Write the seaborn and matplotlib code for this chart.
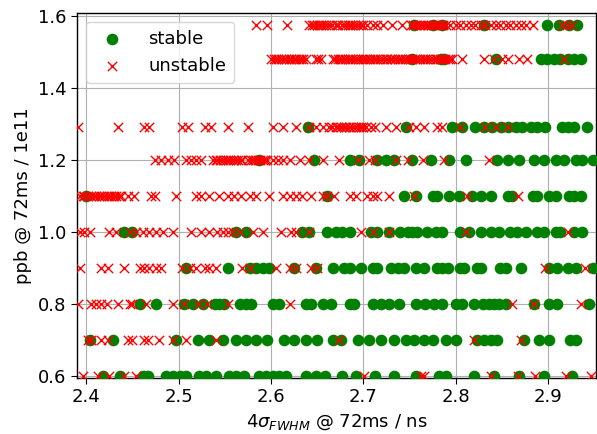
import numpy as np
import pandas as pd
import seaborn as sns
import matplotlib
matplotlib.use("Agg")
import matplotlib.pyplot as plt

# bunch intensity rows (ppb / 1e11) and bunch length values read per row
ppb_rows = [0.6, 0.7, 0.8, 0.9, 1.0, 1.1, 1.2, 1.29, 1.48, 1.575]

stable_060 = [2.418, 2.436, 2.461, 2.467, 2.486, 2.494, 2.501, 2.508, 2.522, 2.530, 2.540, 2.555,
              2.562, 2.571, 2.587, 2.595, 2.602, 2.609, 2.616, 2.638, 2.649, 2.658, 2.677, 2.692,
              2.713, 2.733, 2.757, 2.782, 2.789, 2.820, 2.841, 2.868, 2.895, 2.926]
unstable_060 = [2.396, 2.413, 2.425, 2.441, 2.454, 2.701, 2.762, 2.766, 2.838, 2.867, 2.886, 2.919, 2.946]

stable_070 = [2.404, 2.429, 2.497, 2.521, 2.533, 2.548, 2.562, 2.573, 2.584, 2.596, 2.614, 2.625,
              2.638, 2.650, 2.667, 2.676, 2.694, 2.706, 2.719, 2.733, 2.746, 2.755, 2.766, 2.775,
              2.789, 2.800, 2.823, 2.830, 2.838, 2.845, 2.874, 2.890, 2.901, 2.924, 2.930]
unstable_070 = [2.402, 2.405, 2.416, 2.423, 2.445, 2.449, 2.463, 2.467, 2.479, 2.494, 2.508, 2.540,
                2.674, 2.820, 2.870]

stable_080 = [2.458, 2.476, 2.506, 2.515, 2.526, 2.539, 2.544, 2.549, 2.566, 2.573, 2.578, 2.602,
              2.609, 2.638, 2.643, 2.656, 2.665, 2.685, 2.690, 2.710, 2.719, 2.728, 2.739, 2.757,
              2.767, 2.776, 2.785, 2.800, 2.807, 2.820, 2.829, 2.836, 2.841, 2.847, 2.854, 2.885,
              2.901, 2.910, 2.944]
unstable_080 = [2.391, 2.405, 2.411, 2.416, 2.422, 2.434, 2.447, 2.450, 2.465, 2.494, 2.506, 2.521,
                2.531, 2.553, 2.620, 2.861, 2.885, 2.935]

stable_090 = [2.508, 2.553, 2.577, 2.584, 2.591, 2.598, 2.625, 2.649, 2.667, 2.679, 2.685, 2.697,
              2.710, 2.715, 2.730, 2.737, 2.744, 2.757, 2.766, 2.780, 2.785, 2.791, 2.805, 2.809,
              2.823, 2.827, 2.848, 2.854, 2.870, 2.901, 2.910, 2.921, 2.930, 2.948]
unstable_090 = [2.393, 2.416, 2.423, 2.441, 2.458, 2.463, 2.468, 2.476, 2.481, 2.504, 2.512, 2.519,
                2.528, 2.533, 2.540, 2.569, 2.577, 2.605, 2.620, 2.627, 2.643, 2.650, 2.897, 2.940]

stable_100 = [2.441, 2.449, 2.562, 2.573, 2.634, 2.641, 2.661, 2.670, 2.677, 2.685, 2.708, 2.715,
              2.728, 2.740, 2.748, 2.753, 2.758, 2.769, 2.778, 2.785, 2.805, 2.814, 2.827, 2.838,
              2.847, 2.859, 2.866, 2.876, 2.888, 2.895, 2.908, 2.913, 2.928, 2.937]
unstable_100 = [2.393, 2.398, 2.404, 2.425, 2.432, 2.447, 2.454, 2.461, 2.468, 2.476, 2.483, 2.494,
                2.513, 2.524, 2.533, 2.542, 2.548, 2.553, 2.559, 2.566, 2.580, 2.591, 2.611, 2.622,
                2.627, 2.641, 2.697, 2.710, 2.728, 2.811, 2.921]

stable_110 = [2.400, 2.661, 2.744, 2.757, 2.775, 2.780, 2.793, 2.803, 2.818, 2.827, 2.838, 2.856,
              2.861, 2.883, 2.888, 2.901, 2.908, 2.922, 2.928, 2.935]
unstable_110 = [2.393, 2.396, 2.398, 2.402, 2.405, 2.408, 2.411, 2.414, 2.416, 2.419, 2.422, 2.425,
                2.427, 2.430, 2.432, 2.435, 2.438, 2.445, 2.452, 2.470,
                2.474, 2.497, 2.519, 2.524, 2.533, 2.544, 2.553, 2.560, 2.568, 2.577, 2.584, 2.598,
                2.613, 2.620, 2.627, 2.634, 2.643, 2.656, 2.661, 2.668, 2.686, 2.692, 2.704, 2.710,
                2.715, 2.728, 2.755, 2.812, 2.867]

stable_120 = [2.587, 2.647, 2.686, 2.695, 2.715, 2.724, 2.733, 2.753, 2.773, 2.793, 2.811, 2.845,
              2.857, 2.868, 2.885, 2.895, 2.908, 2.917, 2.930, 2.937, 2.949]
unstable_120 = [2.474, 2.481, 2.488, 2.495, 2.508, 2.513, 2.519, 2.524, 2.537, 2.540, 2.542, 2.545,
                2.548, 2.551, 2.553, 2.556, 2.559, 2.562, 2.564, 2.567, 2.569, 2.575, 2.578, 2.580,
                2.583, 2.586, 2.588, 2.591, 2.594, 2.596, 2.602, 2.607, 2.613, 2.620,
                2.631, 2.641, 2.656, 2.674, 2.694, 2.706, 2.713, 2.735, 2.748, 2.764, 2.787, 2.836]

stable_129 = [2.640, 2.746, 2.796, 2.807, 2.821, 2.830, 2.839, 2.849, 2.857, 2.865, 2.872, 2.881,
              2.888, 2.897, 2.915, 2.921, 2.928, 2.942]
unstable_129 = [2.391, 2.434, 2.463, 2.468, 2.504, 2.510, 2.528, 2.535, 2.553, 2.575, 2.602, 2.613,
                2.627, 2.641, 2.649, 2.656, 2.663, 2.666, 2.670, 2.673, 2.676, 2.679, 2.681, 2.684,
                2.686, 2.689, 2.692, 2.695, 2.697, 2.700, 2.703,
                2.708, 2.713, 2.724, 2.735, 2.749, 2.757, 2.766, 2.780, 2.785, 2.805, 2.832, 2.843,
                2.857]

stable_148 = [2.753, 2.784, 2.787, 2.843, 2.892, 2.899, 2.906, 2.913, 2.921, 2.928, 2.935]
unstable_148 = [2.600, 2.603, 2.605, 2.608, 2.611, 2.614, 2.616, 2.619, 2.622, 2.625, 2.627, 2.630,
                2.632, 2.635, 2.638, 2.649, 2.651, 2.654, 2.667, 2.669, 2.672, 2.675,
                2.677, 2.680, 2.683, 2.686, 2.688, 2.691, 2.694, 2.697, 2.699, 2.702, 2.704, 2.707,
                2.710, 2.713, 2.715, 2.718, 2.721, 2.724, 2.726, 2.729, 2.731, 2.734, 2.737, 2.740,
                2.742, 2.745, 2.748, 2.750, 2.753, 2.756, 2.758, 2.761, 2.764, 2.767, 2.769, 2.772,
                2.775, 2.778, 2.780, 2.783, 2.785, 2.788, 2.791, 2.794, 2.796, 2.807,
                2.830, 2.841, 2.850, 2.857, 2.868, 2.877, 2.917]

stable_158 = [2.755, 2.775, 2.785, 2.830, 2.899, 2.912, 2.922, 2.931]
unstable_158 = [2.584, 2.596, 2.617, 2.641, 2.644, 2.647, 2.650, 2.652, 2.654, 2.656, 2.660, 2.663,
                2.666, 2.670, 2.673, 2.677, 2.680, 2.683, 2.686, 2.688, 2.691,
                2.694, 2.697, 2.699, 2.704, 2.710, 2.715, 2.721, 2.731, 2.742, 2.751, 2.754, 2.757,
                2.760, 2.762, 2.765, 2.767, 2.770, 2.773, 2.776, 2.778, 2.781, 2.784, 2.786, 2.789,
                2.794, 2.800, 2.805, 2.811, 2.816, 2.821, 2.827, 2.832,
                2.838, 2.843, 2.848, 2.854, 2.859, 2.865, 2.870, 2.876, 2.883, 2.915, 2.920, 2.926]

stable_rows = [stable_060, stable_070, stable_080, stable_090, stable_100,
               stable_110, stable_120, stable_129, stable_148, stable_158]
unstable_rows = [unstable_060, unstable_070, unstable_080, unstable_090, unstable_100,
                 unstable_110, unstable_120, unstable_129, unstable_148, unstable_158]

# build long tables
rec_s = [(x, y) for y, xs in zip(ppb_rows, stable_rows) for x in xs]
rec_u = [(x, y) for y, xs in zip(ppb_rows, unstable_rows) for x in xs]
df_stable = pd.DataFrame(rec_s, columns=["sigma", "ppb"])
df_unstable = pd.DataFrame(rec_u, columns=["sigma", "ppb"])

sns.set_style("ticks", {"axes.grid": True, "grid.color": "#b0b0b0"})
plt.rcParams["font.family"] = ["DejaVu Sans"]
plt.rcParams["text.color"] = "black"
plt.rcParams["axes.labelcolor"] = "black"
plt.rcParams["xtick.color"] = "black"
plt.rcParams["ytick.color"] = "black"

fig = plt.figure(figsize=(5.97, 4.34), dpi=100)
ax = fig.add_axes([0.129, 0.129, 0.869, 0.842])

sns.scatterplot(data=df_stable, x="sigma", y="ppb", color="green", marker="o",
                s=70, linewidth=0, label="stable", ax=ax, zorder=3)
sns.scatterplot(data=df_unstable, x="sigma", y="ppb", color="red", marker="x",
                s=45, linewidth=1.0, label="unstable", ax=ax, zorder=4)

ax.set_xlim(2.39, 2.9515)
ax.set_ylim(0.594, 1.609)
ax.set_xticks([2.4, 2.5, 2.6, 2.7, 2.8, 2.9])
ax.set_yticks([0.6, 0.8, 1.0, 1.2, 1.4, 1.6])
ax.tick_params(labelsize=13, length=4)
ax.grid(True, color="#b0b0b0", linewidth=0.8)
for sp in ax.spines.values():
    sp.set_color("black")
    sp.set_linewidth(1.0)

ax.set_xlabel(r"4$\sigma_{FWHM}$ @ 72ms / ns", fontsize=13)
ax.set_ylabel("ppb @ 72ms / 1e11", fontsize=13)
ax.legend(loc="upper left", fontsize=13, frameon=True, borderpad=0.45, handletextpad=1.0)

fig.savefig("out.png", dpi=100)
